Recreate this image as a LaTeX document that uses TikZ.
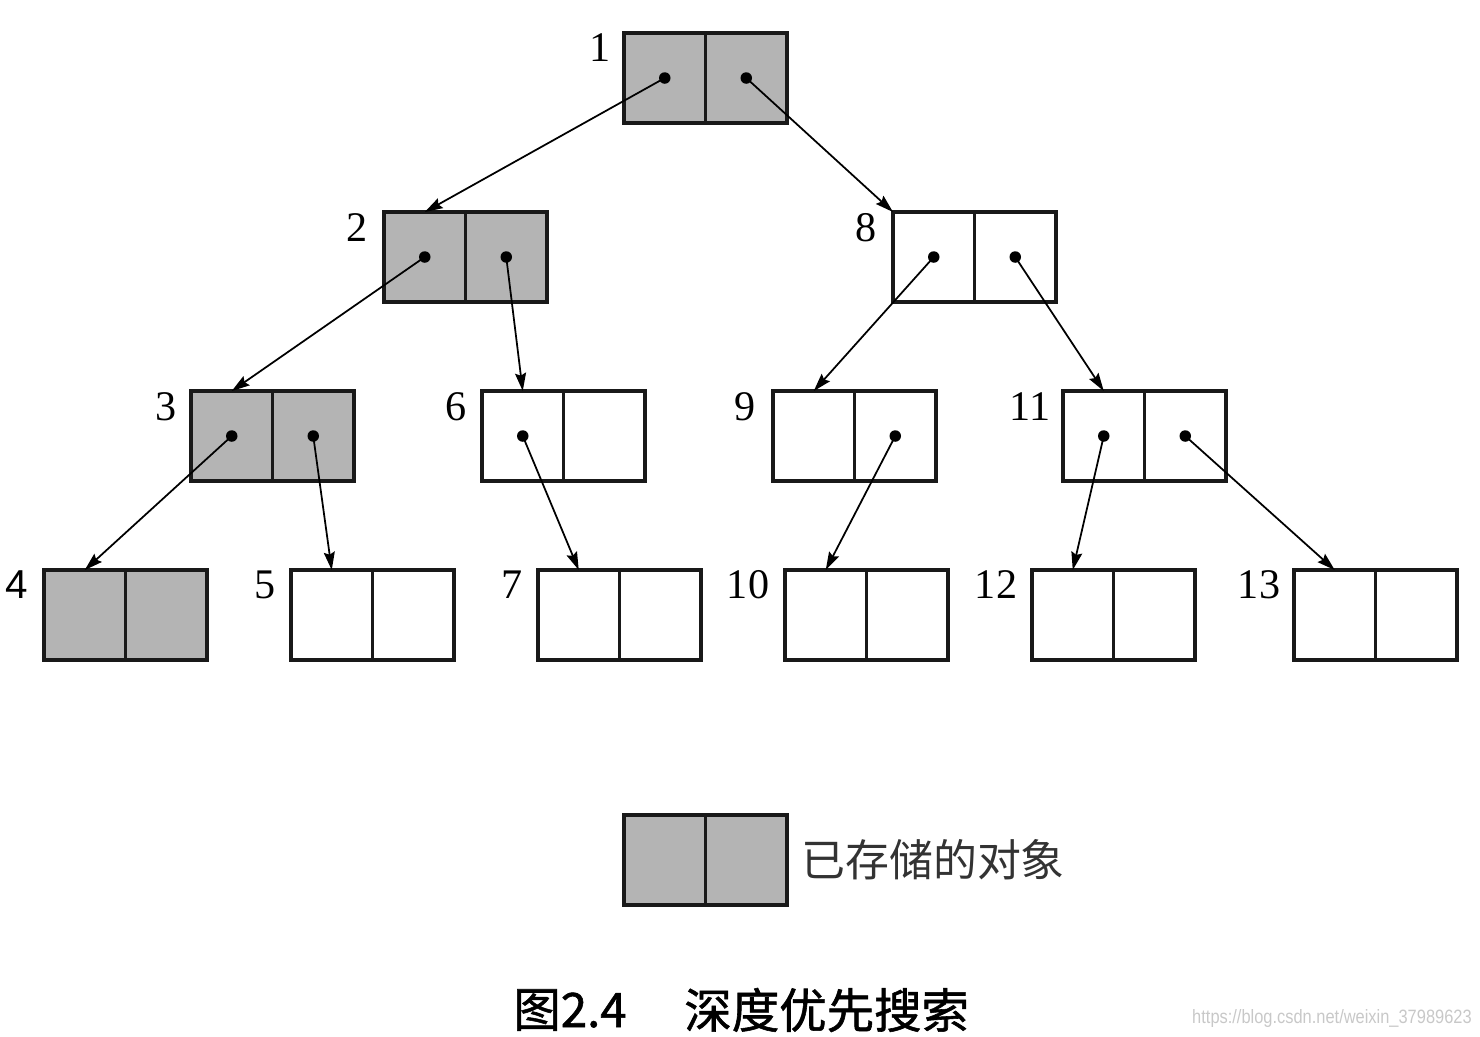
\documentclass[tikz,border=0pt]{standalone}
\usepackage{fontspec}
\setmainfont{Liberation Serif}
\newfontfamily\cjk{Noto Sans CJK SC}
\newfontfamily\cjkcap[FakeBold=1.2]{Noto Sans CJK SC}
\newfontfamily\wmfont{Liberation Sans}
\usetikzlibrary{arrows.meta}
\definecolor{stored}{RGB}{180,180,180}
\definecolor{wm}{RGB}{200,200,200}
\tikzset{
  half/.style={draw=black!90, line width=2.1pt, minimum width=1.63cm, minimum height=1.8cm, inner sep=0pt, outer sep=0pt},
  storedhalf/.style={half, fill=stored},
  freehalf/.style={half, fill=white},
  numlabel/.style={font=\fontsize{24}{24}\selectfont, inner sep=0pt},
  link/.style={line width=1pt, -{Stealth[length=0.36cm, width=0.22cm, inset=0.05cm]}},
  ptr/.style={circle, fill=black, minimum size=0.23cm, inner sep=0pt},
}
% #1 name, #2 left x, #3 top y, #4 style
\newcommand{\objbox}[4]{%
  \node[#4] (#1l) at (#2+40.75, #3+45) {};
  \node[#4] (#1r) at (#2+122.25, #3+45) {};
}
\begin{document}
\begin{tikzpicture}[x=0.02cm, y=-0.02cm]
\useasboundingbox (0,0) rectangle (1480,1036);
% boxes
\objbox{a1}{624}{33}{storedhalf}
\objbox{a2}{384}{212}{storedhalf}
\objbox{a8}{893}{212}{freehalf}
\objbox{a3}{191}{391}{storedhalf}
\objbox{a6}{482}{391}{freehalf}
\objbox{a9}{773}{391}{freehalf}
\objbox{a11}{1063}{391}{freehalf}
\objbox{a4}{44}{570}{storedhalf}
\objbox{a5}{291}{570}{freehalf}
\objbox{a7}{538}{570}{freehalf}
\objbox{a10}{785}{570}{freehalf}
\objbox{a12}{1032}{570}{freehalf}
\objbox{a13}{1294}{570}{freehalf}
% labels
\node[numlabel] (t1) at (600,48) {1};
\node[numlabel] (t2) at (357,228) {2};
\node[numlabel] (t8) at (866,228) {8};
\node[numlabel] (t3) at (166,407) {3};
\node[numlabel] (t6) at (456,407) {6};
\node[numlabel] (t9) at (745,407) {9};
\node[numlabel] (t11) at (1030,407) {11};
\node[numlabel, font=\wmfont\fontsize{23}{23}\selectfont] (t4) at (17,585) {4};
\node[numlabel] (t5) at (265,585) {5};
\node[numlabel] (t7) at (512,585) {7};
\node[numlabel] (t10) at (748,585) {10};
\node[numlabel] (t12) at (996,585) {12};
\node[numlabel] (t13) at (1259,585) {13};
% pointer dots
\foreach \n in {a1l,a1r,a2l,a2r,a8l,a8r,a3l,a3r,a6l,a9r,a11l,a11r}{
  \node[ptr] (d\n) at (\n.center) {};
}
% links
\draw[link] (da1l.center) -- (a2l.north);
\draw[link] (da1r.center) -- (a8l.north west);
\draw[link] (da2l.center) -- (a3l.north);
\draw[link] (da2r.center) -- (a6l.north);
\draw[link] (da8l.center) -- (a9l.north);
\draw[link] (da8r.center) -- (a11l.north);
\draw[link] (da3l.center) -- (a4l.north);
\draw[link] (da3r.center) -- (a5l.north);
\draw[link] (da6l.center) -- (a7l.north);
\draw[link] (da9r.center) -- (a10l.north);
\draw[link] (da11l.center) -- (a12l.north);
\draw[link] (da11r.center) -- (a13l.north);
% legend
\objbox{lg}{624}{815}{storedhalf}
\node[anchor=west, inner sep=0pt, font=\cjk\fontsize{25}{25}\selectfont, text=black!80] (lgtext) at (801,860) {已存储的对象};
% caption
\node[anchor=west, inner sep=0pt, font=\cjkcap\fontsize{27}{27}\selectfont] (cap1) at (513,1010) {图2.4};
\node[anchor=west, inner sep=0pt, font=\cjkcap\fontsize{27}{27}\selectfont] (cap2) at (684,1010) {深度优先搜索};
% watermark
\node[anchor=east, inner sep=0pt, xscale=0.85, font=\wmfont\fontsize{11}{11}\selectfont, text=wm] (wmark) at (1472,1018) {https://blog.csdn.net/weixin\_37989623};
\end{tikzpicture}
\end{document}
